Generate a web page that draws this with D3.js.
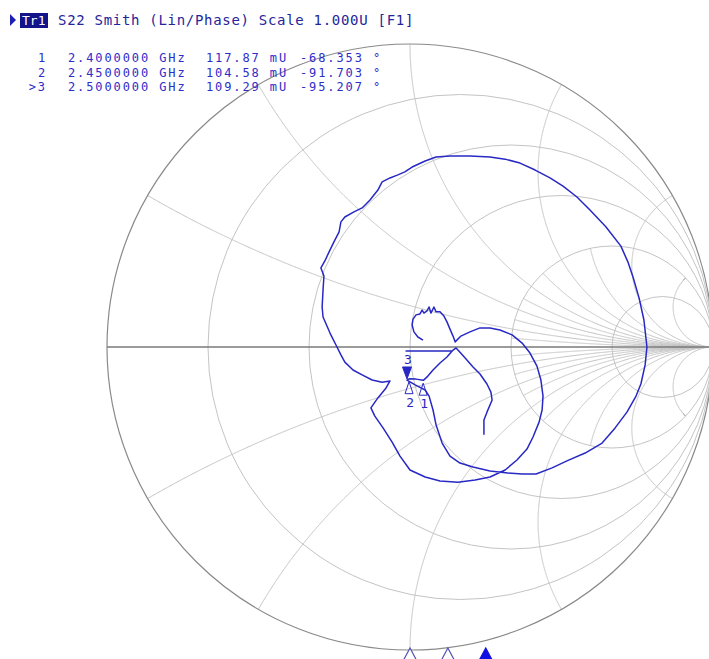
<!DOCTYPE html>
<html><head>
<meta charset="utf-8">
<script src="https://d3js.org/d3.v7.min.js"></script>
<style>
  body { margin: 0; background: #fff; }
  text { font-family: 'DejaVu Sans Mono', monospace; }
</style>
</head>
<body>
<script>
// header
const traceName = "Tr1"
const traceTitle = "S22 Smith (Lin/Phase) Scale 1.000U [F1]"

// marker table
const markerIds = ["1", "2", ">3"]
const markerFreqGHz = [2.40, 2.45, 2.50]
const markerMag = [117.87, 104.58, 109.29]      // mU
const markerPhase = [-68.353, -91.703, -95.207] // deg
const activeMarker = 2

// sweep span, GHz
const startGHz = 2.0
const stopGHz = 2.8

// smith grid
const rCircles = [0.2, 0.5, 1, 2, 5]
const xMajor = [0.268, 0.577, 1, 1.732, 3.732]
const xMinor = [0.132, 0.414, 0.767, 1.303, 2.414, 7.596]
const xMinorFromR = 2

// trace (reflection coefficient)
const traceRe = [0.244, 0.244, 0.254, 0.271, 0.267, 0.254, 0.231, 0.208, 0.182, 0.165, 0.152,
  0.139, -0.013, 0.139,
  0.122, 0.099, 0.076, 0.059, 0.044, 0.020, -0.003, -0.010,
  0.017, 0.050, 0.063, 0.076, 0.086, 0.106, 0.132, 0.165, 0.208, 0.264, 0.323, 0.370, 0.416,
  0.469, 0.518, 0.578, 0.634, 0.677, 0.716, 0.746, 0.762, 0.776, 0.782,
  0.772, 0.756, 0.736, 0.719, 0.696, 0.647, 0.594, 0.551, 0.505, 0.462, 0.413, 0.363, 0.314,
  0.264, 0.198, 0.132, 0.086, 0.050, 0.007, -0.017, -0.040, -0.066, -0.092, -0.106, -0.132,
  -0.158, -0.185, -0.215, -0.228, -0.234, -0.251, -0.267, -0.281, -0.294, -0.284, -0.287,
  -0.290, -0.287, -0.264, -0.241, -0.228, -0.215, -0.188, -0.158, -0.125, -0.092, -0.066,
  -0.079, -0.106, -0.129, -0.116, -0.089, -0.059, -0.033, 0.000, 0.050, 0.099, 0.158, 0.215,
  0.264, 0.314, 0.353, 0.386, 0.406, 0.426, 0.436, 0.439, 0.432, 0.419, 0.396, 0.370, 0.337,
  0.297, 0.264, 0.231, 0.198, 0.168, 0.149,
  0.142, 0.132, 0.122, 0.112, 0.099, 0.086, 0.079, 0.069, 0.063, 0.056, 0.046, 0.040, 0.033,
  0.020, 0.010, 0.007, 0.013, 0.026, 0.043]
const traceIm = [-0.290, -0.241, -0.215, -0.175, -0.149, -0.122, -0.089, -0.066, -0.036, -0.017, -0.003,
  -0.013, -0.013, -0.013,
  -0.033, -0.053, -0.076, -0.096, -0.110, -0.106, -0.105, -0.109,
  -0.125, -0.142, -0.162, -0.208, -0.257, -0.317, -0.360, -0.383, -0.396, -0.409, -0.416, -0.419, -0.419,
  -0.399, -0.376, -0.350, -0.317, -0.267, -0.215, -0.162, -0.122, -0.059, 0.000,
  0.089, 0.162, 0.231, 0.281, 0.333, 0.396, 0.452, 0.495, 0.531, 0.558, 0.584, 0.607, 0.620,
  0.627, 0.630, 0.630, 0.627, 0.614, 0.594, 0.578, 0.568, 0.558, 0.545, 0.518, 0.485,
  0.459, 0.446, 0.429, 0.413, 0.380, 0.347, 0.314, 0.284, 0.261, 0.234, 0.188,
  0.132, 0.099, 0.046, 0.000, -0.026, -0.050, -0.076, -0.092, -0.109, -0.116, -0.112,
  -0.135, -0.168, -0.201, -0.228, -0.267, -0.314, -0.360, -0.406, -0.429, -0.442, -0.446, -0.439,
  -0.429, -0.406, -0.373, -0.337, -0.297, -0.248, -0.208, -0.162, -0.109, -0.063, -0.020, 0.013, 0.040,
  0.056, 0.063, 0.063, 0.050, 0.036, 0.017,
  0.036, 0.059, 0.083, 0.102, 0.116, 0.116, 0.132, 0.112, 0.132, 0.119, 0.112, 0.122, 0.109,
  0.106, 0.092, 0.073, 0.050, 0.033, 0.023]

const width = 709, height = 659
const cx = 410, cy = 347, R = 303
const blue = "#2828c4"

const svg = d3.select("body").append("svg")
  .attr("width", width).attr("height", height)
  .style("display", "block")

const sx = d3.scaleLinear().domain([-1, 1]).range([cx - R, cx + R])
const sy = d3.scaleLinear().domain([-1, 1]).range([cy + R, cy - R])
const fx = d3.scaleLinear().domain([startGHz, stopGHz]).range([cx - R, cx + R])

// z = r + jx  ->  gamma
function gamma(r, x) {
  const d = (r + 1) * (r + 1) + x * x
  return [(r * r - 1 + x * x) / d, 2 * x / d]
}
const line = d3.line().x(d => sx(d[0])).y(d => sy(d[1]))

const grid = svg.append("g").attr("fill", "none").attr("stroke", "#c4c4c4").attr("stroke-width", 1)

// resistance circles
grid.selectAll("circle.r").data(rCircles).join("circle")
  .attr("class", "r")
  .attr("cx", r => sx(r / (r + 1)))
  .attr("cy", sy(0))
  .attr("r", r => sx(1 / (r + 1)) - sx(0))

// reactance arcs
function xArc(x, r0) {
  const pts = d3.range(0, 600).map(i => {
    const r = r0 + Math.tan(i / 600 * Math.PI / 2)
    return gamma(r, x)
  })
  pts.push([1, 0])
  return pts
}
const arcs = []
xMajor.forEach(x => { arcs.push(xArc(x, 0)); arcs.push(xArc(-x, 0)) })
xMinor.forEach(x => { arcs.push(xArc(x, xMinorFromR)); arcs.push(xArc(-x, xMinorFromR)) })
grid.selectAll("path").data(arcs).join("path").attr("d", line)

// outer circle and real axis
svg.append("circle").attr("cx", sx(0)).attr("cy", sy(0)).attr("r", sx(1) - sx(0))
  .attr("fill", "none").attr("stroke", "#8a8a8a").attr("stroke-width", 1.2)
svg.append("line").attr("x1", sx(-1)).attr("x2", sx(1)).attr("y1", sy(0)).attr("y2", sy(0))
  .attr("stroke", "#7a7a7a").attr("stroke-width", 1.4)

// trace
const trace = traceRe.map((re, i) => [re, traceIm[i]])
svg.append("path").datum(trace).attr("d", line)
  .attr("fill", "none").attr("stroke", blue).attr("stroke-width", 1.5)
  .attr("stroke-linejoin", "round")

// markers on trace
const markers = markerMag.map((m, i) => {
  const a = markerPhase[i] * Math.PI / 180
  return { id: markerIds[i].replace(">", ""), re: m / 1000 * Math.cos(a), im: m / 1000 * Math.sin(a), f: markerFreqGHz[i], active: i === activeMarker }
})
const mk = svg.append("g")
markers.forEach(m => {
  const px = sx(m.re), py = sy(m.im)
  if (m.active) {
    mk.append("path").attr("d", `M${px},${py - 1} L${px - 4.5},${py - 13} L${px + 4.5},${py - 13} Z`)
      .attr("fill", blue).attr("stroke", blue)
    mk.append("text").attr("x", px + 1).attr("y", py - 16).attr("text-anchor", "middle")
      .attr("font-size", 13).attr("fill", blue).text(m.id)
  } else {
    mk.append("path").attr("d", `M${px},${py + 3} L${px - 4},${py + 15} L${px + 4},${py + 15} Z`)
      .attr("fill", "none").attr("stroke", blue)
    mk.append("text").attr("x", px + 1).attr("y", py + 28).attr("text-anchor", "middle")
      .attr("font-size", 13).attr("fill", blue).text(m.id)
  }
})

// stimulus indicators along the bottom
markers.forEach(m => {
  const px = fx(m.f)
  svg.append("path").attr("d", `M${px},648 L${px - 8},663 L${px + 8},663 Z`)
    .attr("fill", m.active ? "#1010e0" : "#fff").attr("stroke", m.active ? "#1010e0" : "#5050b8").attr("stroke-width", 1.2)
})

// header
svg.append("path").attr("d", "M10,14 L16,20 L10,26 Z").attr("fill", "#1f1fb0")
svg.append("rect").attr("x", 20).attr("y", 13).attr("width", 28).attr("height", 15).attr("fill", "#14148a")
svg.append("text").attr("x", 22).attr("y", 25).attr("font-size", 13).attr("fill", "#fff").text(traceName)
svg.append("text").attr("x", 58).attr("y", 25).attr("font-size", 14).attr("letter-spacing", 0.7)
  .attr("fill", "#25259a").text(traceTitle)

// marker table
const rowY = [62, 76.5, 91]
const table = svg.append("g").attr("font-size", 12).attr("letter-spacing", 1.9).attr("fill", "#2d2dc8")
markerIds.forEach((id, i) => {
  table.append("text").attr("x", 47).attr("y", rowY[i]).attr("text-anchor", "end").text(id)
  table.append("text").attr("x", 68).attr("y", rowY[i]).text(markerFreqGHz[i].toFixed(7) + " GHz")
  table.append("text").attr("x", 206).attr("y", rowY[i]).text(markerMag[i].toFixed(2) + " mU")
  table.append("text").attr("x", 300).attr("y", rowY[i]).text(markerPhase[i].toFixed(3) + " °")
})
</script>
</body></html>
